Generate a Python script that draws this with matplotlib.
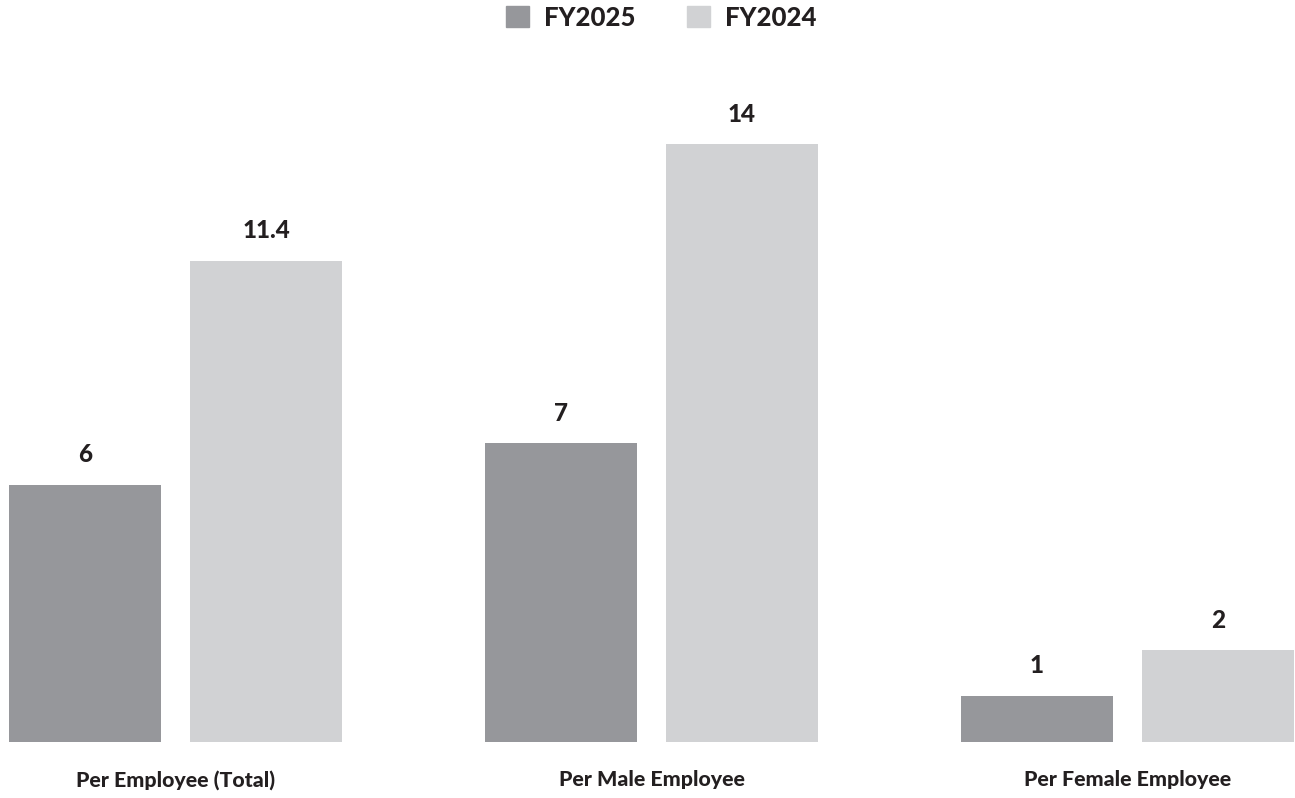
import matplotlib
matplotlib.use("Agg")
import matplotlib.pyplot as plt
from matplotlib.patches import Patch
import numpy as np

categories = ["Per Employee (Total)", "Per Male Employee", "Per Female Employee"]
series_names = ["FY2025", "FY2024"]
# bar heights as drawn in the picture
fy2025 = [6.02, 7.0, 1.08]
fy2024 = [11.27, 14.0, 2.15]
# printed value labels
labels_2025 = ["6", "7", "1"]
labels_2024 = ["11.4", "14", "2"]

c_dark = "#96979b"
c_light = "#d1d2d4"
txt = "#231f20"

plt.rcParams['font.family'] = ['Lato', 'DejaVu Sans']

W, H = 1295, 798
fig = plt.figure(figsize=(W / 100, H / 100), dpi=100)
ax = fig.add_axes([9 / W, (H - 742) / H, (1294 - 9) / W, 642 / H])

x = np.arange(len(categories))
bw = 0.3193
off = 0.1901
ax.bar(x - off, fy2025, bw, color=c_dark)
ax.bar(x + off, fy2024, bw, color=c_light)

ax.set_xlim(-0.3498, 2.3498)
ax.set_ylim(0, 642 / 42.71)
for s in ax.spines.values():
    s.set_visible(False)
ax.set_yticks([])
ax.set_xticks(x)
ax.set_xticklabels(categories, fontsize=15.4, fontweight='black', color=txt)
ax.tick_params(axis='x', length=0, pad=20)

for xi, v, l in zip(x - off, fy2025, labels_2025):
    ax.annotate(l, (xi, v), xytext=(0, 30), textcoords='offset pixels',
                ha='center', va='center', fontsize=17.5, fontweight='black', color=txt)
for xi, v, l in zip(x + off, fy2024, labels_2024):
    ax.annotate(l, (xi, v), xytext=(0, 30), textcoords='offset pixels',
                ha='center', va='center', fontsize=17.5, fontweight='black', color=txt)

handles = [Patch(color=c_dark, label=series_names[0]), Patch(color=c_light, label=series_names[1])]
leg = fig.legend(handles=handles, loc='center', bbox_to_anchor=(661 / W, 1 - 17.5 / H),
                 ncol=2, frameon=False, handlelength=0.9, handleheight=0.9,
                 handletextpad=0.58, columnspacing=2.0, borderpad=0, borderaxespad=0,
                 prop={'size': 18.5, 'weight': 'black'})
for t in leg.get_texts():
    t.set_color(txt)

fig.savefig("out.png", dpi=100, facecolor='white')
